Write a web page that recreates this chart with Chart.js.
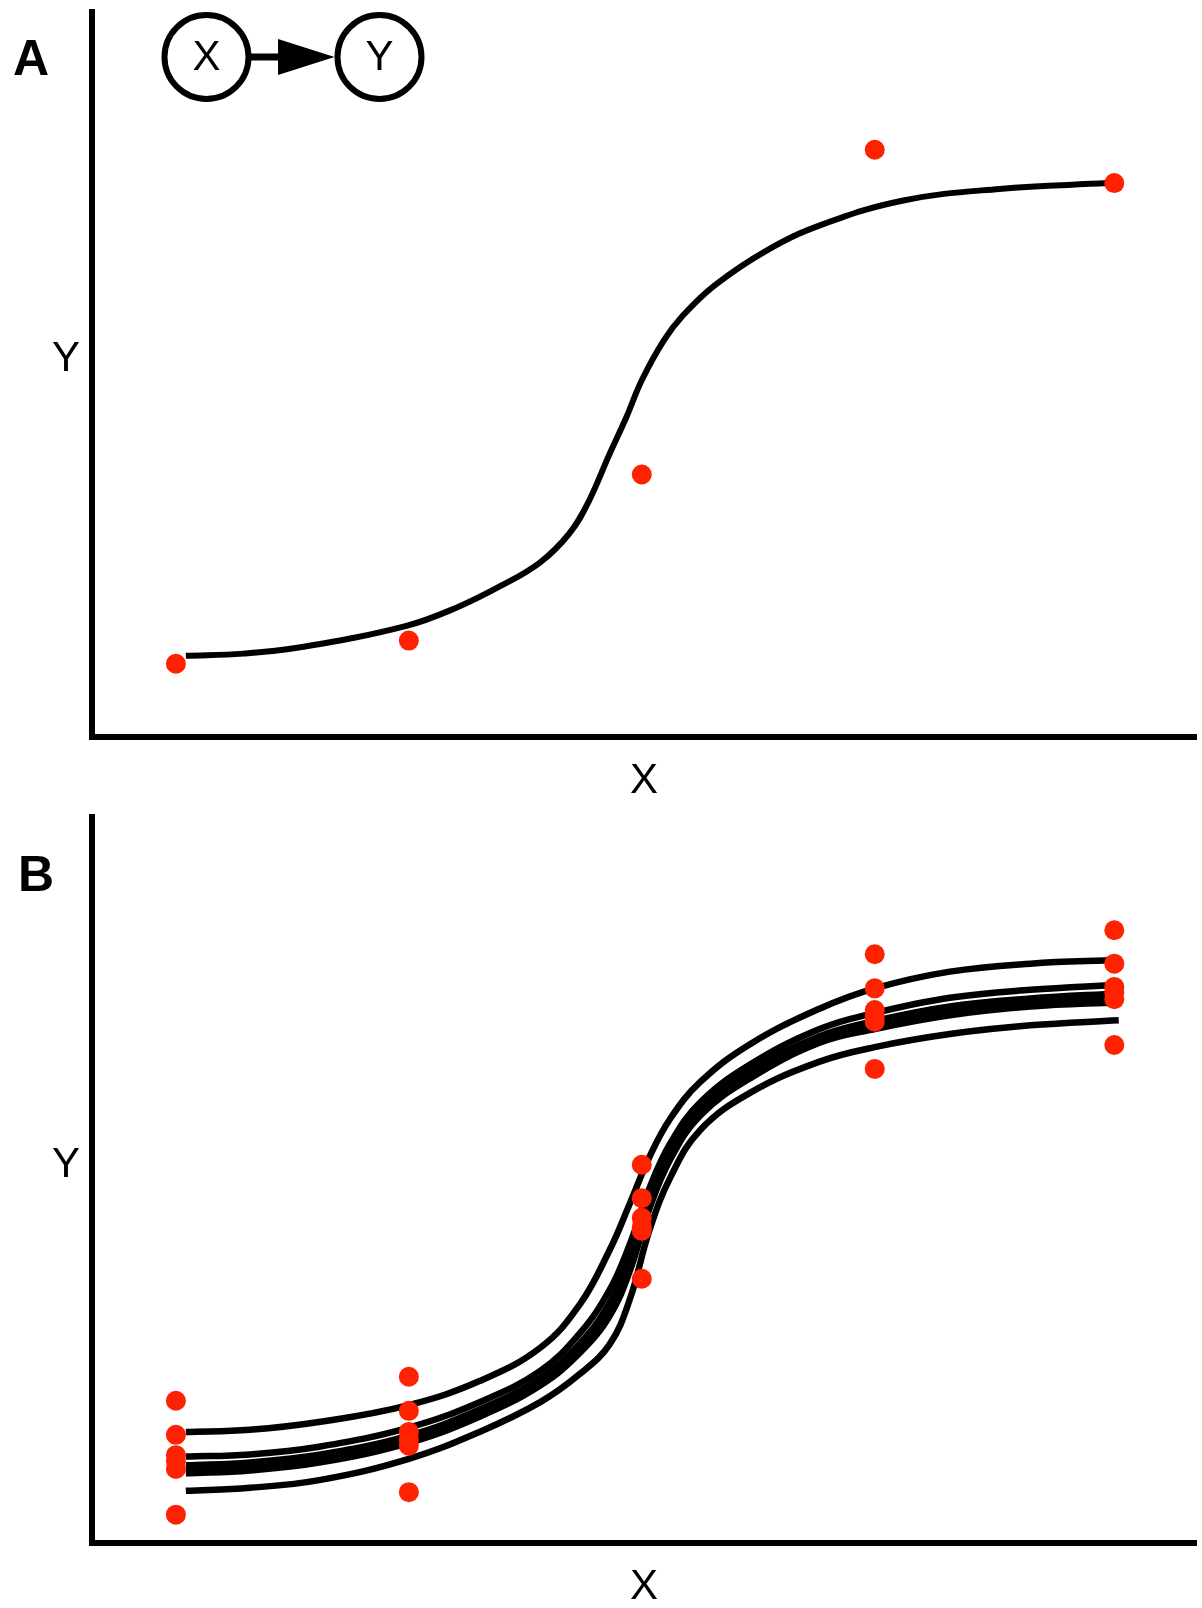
<!DOCTYPE html>
<html>
<head>
<meta charset="utf-8">
<script src="https://cdn.jsdelivr.net/npm/chart.js@4.4.1/dist/chart.umd.min.js"></script>
<style>
  html, body { margin: 0; padding: 0; background: #fff; }
  #wrapA { position: absolute; left: 0; top: 0; width: 1202px; height: 802px; }
  #wrapB { position: absolute; left: 0; top: 802px; width: 1202px; height: 806px; }
</style>
</head>
<body>
<div id="wrapA"><canvas id="chartA"></canvas></div>
<div id="wrapB"><canvas id="chartB"></canvas></div>
<script>
// x position of the five levels (axis runs 0-100)
const xLevels = [7.6, 28.7, 49.8, 70.9, 92.6];

// panel A: one observation per level and the fitted curve
const obsA = [10.1, 13.3, 36.2, 81.0, 76.4];
const curveAX = [8.5, 13.7, 18.6, 28.4, 33.1, 37.1, 40.6, 43.2, 44.9, 46.9, 48.4, 49.8, 51.8, 53.5, 56.4, 61.1, 66.0, 73.5, 82.2, 92.0];
const curveAY = [11.2, 11.5, 12.3, 15.3, 17.9, 20.9, 24.1, 28.0, 32.2, 39.1, 44.1, 49.2, 54.7, 58.1, 62.3, 67.1, 70.6, 74.0, 75.6, 76.4];

// panel B: six replicates per level and six fitted curves
const obsB = [
  [19.6, 22.9, 52.1, 81.1, 84.4],
  [14.9, 18.2, 47.5, 76.4, 79.8],
  [12.1, 15.3, 44.8, 73.4, 76.6],
  [11.3, 14.2, 43.5, 72.5, 75.8],
  [10.2, 13.4, 43.0, 71.8, 74.9],
  [3.9, 7.0, 36.4, 65.3, 68.6]
];
const curveBX = [8.5, 14.3, 20.7, 28.7, 35.1, 40.6, 44.2, 46.9, 48.7, 50.5, 52.4, 55.1, 59.6, 65.9, 70.9, 77.7, 85.0, 93.0];
const curvesB = [
  [15.3, 15.6, 16.7, 19.0, 22.3, 26.9, 32.9, 40.4, 46.7, 53.2, 58.5, 63.5, 68.7, 73.6, 76.4, 78.7, 79.8, 80.3],
  [11.9, 12.2, 13.3, 15.9, 19.4, 23.7, 28.9, 34.9, 41.1, 48.9, 55.1, 60.7, 65.9, 70.8, 73.0, 75.1, 76.2, 76.9],
  [10.7, 11.1, 12.2, 14.8, 18.4, 22.7, 27.5, 33.1, 39.3, 47.5, 54.0, 59.8, 65.0, 69.8, 71.9, 73.9, 75.0, 75.7],
  [10.2, 10.5, 11.6, 14.3, 17.9, 22.2, 26.8, 32.2, 38.4, 46.8, 53.4, 59.3, 64.5, 69.4, 71.3, 73.3, 74.5, 75.1],
  [9.6, 10.0, 11.1, 13.8, 17.4, 21.7, 26.2, 31.3, 37.4, 46.1, 52.9, 58.9, 64.0, 68.9, 70.8, 72.7, 73.9, 74.5],
  [7.2, 7.6, 8.7, 11.6, 15.3, 19.4, 23.3, 27.4, 33.5, 43.1, 50.4, 56.9, 62.0, 66.3, 68.3, 70.1, 71.3, 72.0]
];

const RED = "#ff2200";
const FONT = '"Liberation Sans", Arial, sans-serif';

function pairs(xs, ys) {
  return xs.map((x, i) => ({ x: x, y: ys[i] }));
}

function pointSet(ys) {
  return {
    data: pairs(xLevels, ys),
    backgroundColor: RED,
    borderWidth: 0,
    pointRadius: 10,
    showLine: false,
    order: 0
  };
}

function curveSet(xs, ys, width) {
  return {
    data: pairs(xs, ys),
    borderColor: "#000",
    borderWidth: width,
    pointRadius: 0,
    showLine: true,
    tension: 0.4,
    order: 1
  };
}

// panel letter and upright "Y" label
const panelLabels = {
  id: "panelLabels",
  afterDraw(chart, args, opts) {
    const ctx = chart.ctx;
    const area = chart.chartArea;
    ctx.save();
    ctx.fillStyle = "#000";
    ctx.textAlign = "center";
    ctx.textBaseline = "middle";
    ctx.font = "bold 50px " + FONT;
    ctx.fillText(opts.letter, opts.lx, opts.ly);
    ctx.font = "42px " + FONT;
    ctx.fillText("Y", area.left - 26, (area.top + area.bottom) / 2 - 15);
    ctx.restore();
  }
};

// small X -> Y diagram in the top corner of panel A
const diagram = {
  id: "diagram",
  afterDraw(chart) {
    const ctx = chart.ctx;
    const r = 42;
    const cy = 57;
    const cx1 = 206.5;
    const cx2 = 379.5;
    ctx.save();
    ctx.strokeStyle = "#000";
    ctx.fillStyle = "#000";
    ctx.lineWidth = 6;
    [cx1, cx2].forEach((cx) => {
      ctx.beginPath();
      ctx.arc(cx, cy, r, 0, Math.PI * 2);
      ctx.stroke();
    });
    ctx.lineWidth = 7;
    ctx.beginPath();
    ctx.moveTo(cx1 + r, cy);
    ctx.lineTo(282, cy);
    ctx.stroke();
    ctx.beginPath();
    ctx.moveTo(278, cy - 18);
    ctx.lineTo(cx2 - r - 3, cy);
    ctx.lineTo(278, cy + 18);
    ctx.closePath();
    ctx.fill();
    ctx.textAlign = "center";
    ctx.textBaseline = "middle";
    ctx.font = "42px " + FONT;
    ctx.fillText("X", cx1, cy + 1);
    ctx.fillText("Y", cx2, cy + 1);
    ctx.restore();
  }
};

function axisOpts(withTitle) {
  const o = {
    type: "linear",
    min: 0,
    max: 100,
    grid: { display: false, drawTicks: false },
    ticks: { display: false },
    border: { display: true, width: 6, color: "#000" }
  };
  if (withTitle) {
    o.title = {
      display: true,
      text: "X",
      color: "#000",
      font: { family: FONT, size: 42, lineHeight: 1 },
      padding: { top: 23, bottom: 0 }
    };
  }
  return o;
}

function makeChart(id, datasets, padding, labelOpts, extraPlugins) {
  return new Chart(document.getElementById(id), {
    type: "scatter",
    data: { datasets: datasets },
    options: {
      responsive: true,
      maintainAspectRatio: false,
      animation: false,
      layout: { padding: padding, autoPadding: false },
      scales: { x: axisOpts(true), y: axisOpts(false) },
      plugins: {
        legend: { display: false },
        tooltip: { enabled: false },
        panelLabels: labelOpts
      }
    },
    plugins: [panelLabels].concat(extraPlugins)
  });
}

const dataA = [pointSet(obsA), curveSet(curveAX, curveAY, 6)];
makeChart("chartA", dataA, { left: 92, top: 12, right: 6, bottom: 0 }, { letter: "A", lx: 31, ly: 61 }, [diagram]);

const dataB = obsB.map(pointSet).concat(curvesB.map((ys) => curveSet(curveBX, ys, 6.5)));
makeChart("chartB", dataB, { left: 92, top: 15, right: 6, bottom: 0 }, { letter: "B", lx: 36, ly: 75 }, []);
</script>
</body>
</html>
